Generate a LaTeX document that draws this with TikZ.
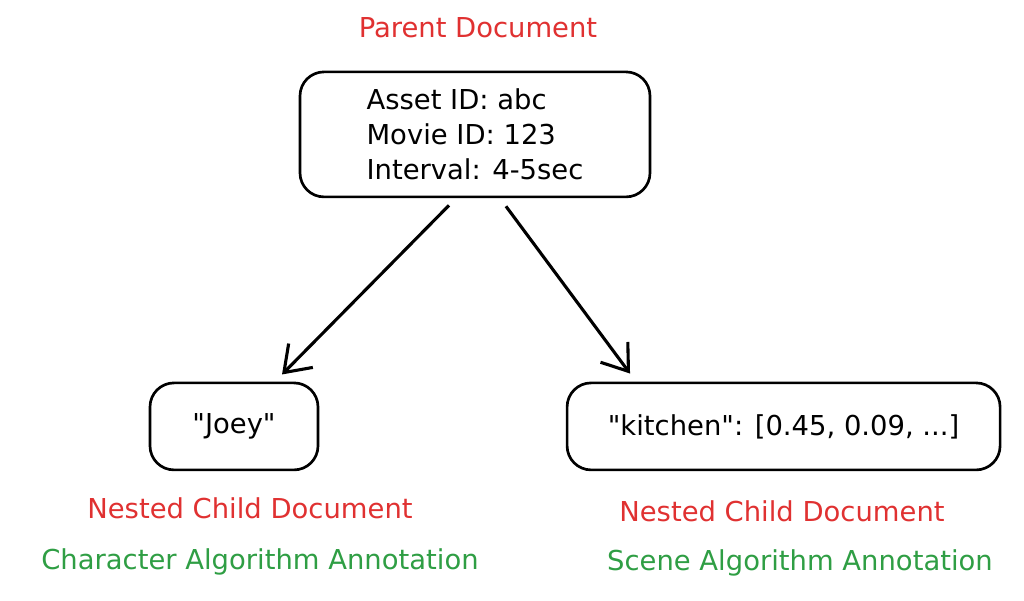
\documentclass[tikz,border=0pt]{standalone}
\usepackage{fontspec}
\setmainfont{DejaVu Sans}
\usepackage{tikz}
\usetikzlibrary{arrows.meta,positioning}
\definecolor{titrerouge}{HTML}{E03131}
\definecolor{annotvert}{HTML}{2F9E44}

\begin{document}
\begin{tikzpicture}[
		doc/.style={draw, line width=1.9pt, rounded corners=0.6cm, inner sep=0pt, font=\fontsize{19.5}{24.8}\selectfont},
		titre/.style={text=titrerouge, font=\fontsize{19.5}{22}\selectfont},
		annot/.style={text=annotvert, font=\fontsize{19.5}{22}\selectfont},
		fleche/.style={line width=2.2pt, -{Straight Barb[length=0.6cm, width=0.85cm, line width=2.2pt]}, shorten <=0.25cm, shorten >=0.25cm}
		]
		\useasboundingbox (0,0) rectangle (25.6,-15);
		
		% Les documents
		\node[doc, minimum width=8.75cm, minimum height=3.125cm, align=left] (parent) at (11.875,-3.36) {Asset ID: abc\\Movie ID: 123\\Interval: 4-5sec};
		\node[doc, minimum width=4.2cm, minimum height=2.175cm] (joey) at (5.85,-10.66) {\textquotedbl Joey\textquotedbl};
		\node[doc, minimum width=10.825cm, minimum height=2.175cm] (scene) at (19.59,-10.66) {\textquotedbl kitchen\textquotedbl: [0.45, 0.09, ...]};
		
		% Les titres
		\node[titre] (tparent) at (11.95,-0.68) {Parent Document};
		\node[titre] (tjoey) at (6.25,-12.7) {Nested Child Document};
		\node[annot] (ajoey) at (6.5,-14.05) {Character Algorithm Annotation};
		\node[titre] (tscene) at (19.55,-12.78) {Nested Child Document};
		\node[annot] (ascene) at (20.0,-14.08) {Scene Algorithm Annotation};
		
		% Les fleches
		\draw[fleche] ([xshift=-0.475cm]parent.south) -- ([xshift=1.025cm]joey.north);
		\draw[fleche] ([xshift=0.625cm]parent.south) -- ([xshift=-3.69cm]scene.north);
	\end{tikzpicture}
\end{document}
